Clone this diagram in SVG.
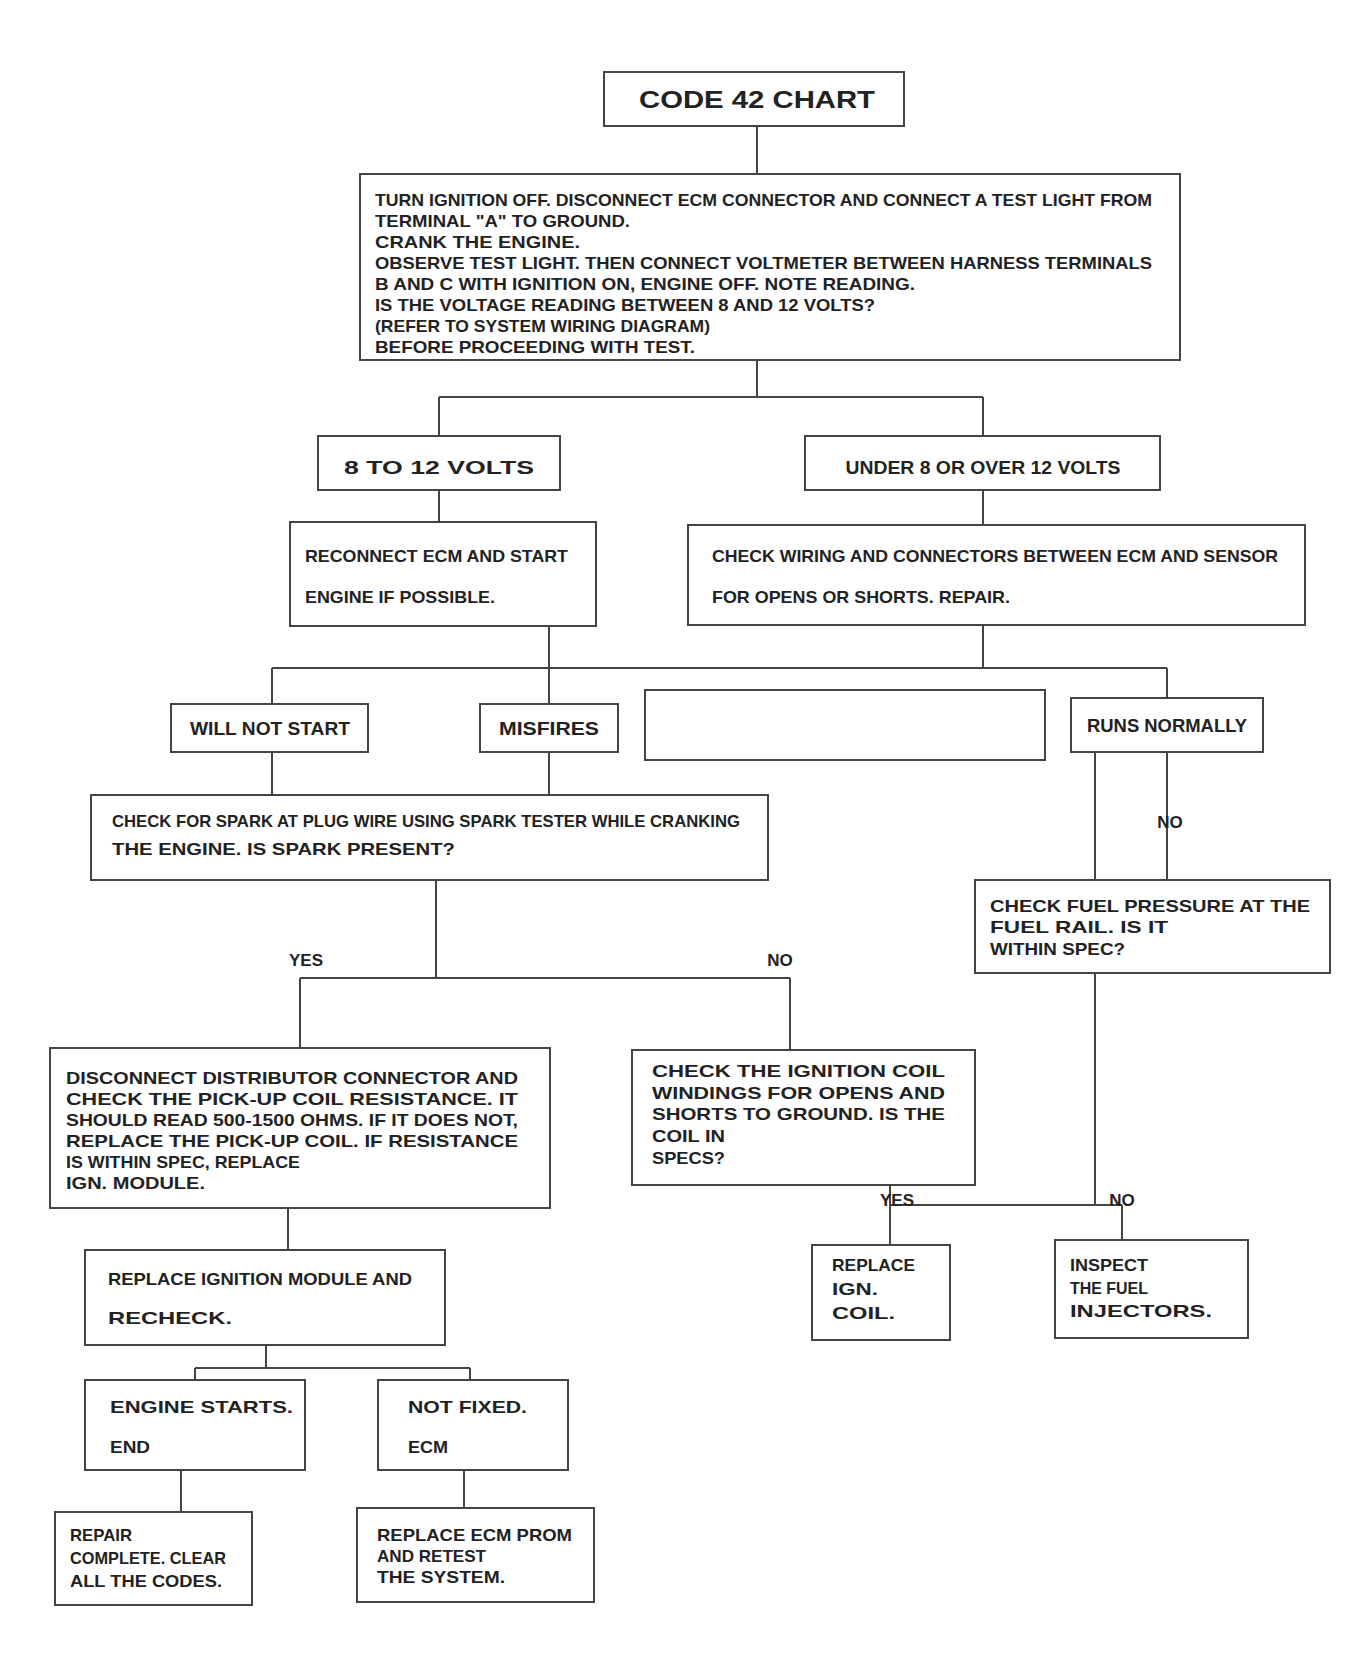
<svg xmlns="http://www.w3.org/2000/svg" width="1371" height="1673" viewBox="0 0 1371 1673">
<style>
.box{fill:#fff;stroke:#444;stroke-width:2}
.c{fill:none;stroke:#444;stroke-width:2}
.t{font-family:"Liberation Sans",Arial,sans-serif;font-weight:bold;font-size:17px;fill:#222}
.h{font-family:"Liberation Sans",Arial,sans-serif;font-weight:bold;font-size:19px;fill:#222;text-anchor:middle}
.ttl{font-family:"Liberation Sans",Arial,sans-serif;font-weight:bold;font-size:24px;fill:#222;text-anchor:middle}
.lbl{font-family:"Liberation Sans",Arial,sans-serif;font-weight:bold;font-size:17px;fill:#222;text-anchor:middle}
</style>
<rect width="1371" height="1673" fill="#fff"/>
<g id="connectors">
<path class="c" d="M757 126V174"/>
<path class="c" d="M757 360V397M439 397H983M439 397V436M983 397V436"/>
<path class="c" d="M439 490V522M983 490V525"/>
<path class="c" d="M549 626V668M983 625V668M272 668H1167M272 668V704M549 668V704M1167 668V698"/>
<path class="c" d="M272 752V795M549 752V795"/>
<path class="c" d="M1167 752V880"/>
<path class="c" d="M1095 752V1205"/>
<path class="c" d="M436 880V978M300 978H790M300 978V1048M790 978V1050"/>
<path class="c" d="M890 1185V1245M890 1205H1122M1122 1205V1240"/>
<path class="c" d="M288 1208V1250"/>
<path class="c" d="M266 1345V1368M195 1368H470M195 1368V1380M470 1368V1380"/>
<path class="c" d="M181 1470V1512M464 1470V1508"/>
</g>
<g id="title"><rect class="box" x="604" y="72" width="300" height="54"/><text class="ttl" x="757" y="108" textLength="236" lengthAdjust="spacingAndGlyphs">CODE 42 CHART</text></g>
<g id="nodeB"><rect class="box" x="360" y="174" width="820" height="186"/>
<text class="t" x="375" y="206" textLength="777" lengthAdjust="spacingAndGlyphs">TURN IGNITION OFF. DISCONNECT ECM CONNECTOR AND CONNECT A TEST LIGHT FROM</text>
<text class="t" x="375" y="227" textLength="255" lengthAdjust="spacingAndGlyphs">TERMINAL "A" TO GROUND.</text>
<text class="t" x="375" y="248" textLength="205" lengthAdjust="spacingAndGlyphs">CRANK THE ENGINE.</text>
<text class="t" x="375" y="269" textLength="777" lengthAdjust="spacingAndGlyphs">OBSERVE TEST LIGHT. THEN CONNECT VOLTMETER BETWEEN HARNESS TERMINALS</text>
<text class="t" x="375" y="290" textLength="540" lengthAdjust="spacingAndGlyphs">B AND C WITH IGNITION ON, ENGINE OFF. NOTE READING.</text>
<text class="t" x="375" y="311" textLength="500" lengthAdjust="spacingAndGlyphs">IS THE VOLTAGE READING BETWEEN 8 AND 12 VOLTS?</text>
<text class="t" x="375" y="332" textLength="335" lengthAdjust="spacingAndGlyphs">(REFER TO SYSTEM WIRING DIAGRAM)</text>
<text class="t" x="375" y="353" textLength="320" lengthAdjust="spacingAndGlyphs">BEFORE PROCEEDING WITH TEST.</text>
</g>
<g id="nodeC"><rect class="box" x="318" y="436" width="242" height="54"/><text class="h" x="439" y="474" textLength="190" lengthAdjust="spacingAndGlyphs">8 TO 12 VOLTS</text></g>
<g id="nodeD"><rect class="box" x="805" y="436" width="355" height="54"/><text class="h" x="983" y="474" textLength="275" lengthAdjust="spacingAndGlyphs">UNDER 8 OR OVER 12 VOLTS</text></g>
<g id="nodeE"><rect class="box" x="290" y="522" width="306" height="104"/>
<text class="t" x="305" y="562" textLength="263" lengthAdjust="spacingAndGlyphs">RECONNECT ECM AND START</text>
<text class="t" x="305" y="603" textLength="190" lengthAdjust="spacingAndGlyphs">ENGINE IF POSSIBLE.</text></g>
<g id="nodeF"><rect class="box" x="688" y="525" width="617" height="100"/>
<text class="t" x="712" y="562" textLength="566" lengthAdjust="spacingAndGlyphs">CHECK WIRING AND CONNECTORS BETWEEN ECM AND SENSOR</text>
<text class="t" x="712" y="603" textLength="298" lengthAdjust="spacingAndGlyphs">FOR OPENS OR SHORTS. REPAIR.</text></g>
<g id="nodeG"><rect class="box" x="171" y="704" width="197" height="48"/><text class="h" x="270" y="735" textLength="160" lengthAdjust="spacingAndGlyphs">WILL NOT START</text></g>
<g id="nodeH"><rect class="box" x="480" y="704" width="138" height="48"/><text class="h" x="549" y="735" textLength="100" lengthAdjust="spacingAndGlyphs">MISFIRES</text></g>
<g id="emptyBox"><rect class="box" x="645" y="690" width="400" height="70"/></g>
<g id="nodeI"><rect class="box" x="1071" y="698" width="192" height="54"/><text class="h" x="1167" y="732" textLength="160" lengthAdjust="spacingAndGlyphs">RUNS NORMALLY</text></g>
<g id="nodeJ"><rect class="box" x="91" y="795" width="677" height="85"/>
<text class="t" x="112" y="827" textLength="628" lengthAdjust="spacingAndGlyphs">CHECK FOR SPARK AT PLUG WIRE USING SPARK TESTER WHILE CRANKING</text>
<text class="t" x="112" y="855" textLength="343" lengthAdjust="spacingAndGlyphs">THE ENGINE. IS SPARK PRESENT?</text></g>
<g id="nodeK"><rect class="box" x="975" y="880" width="355" height="93"/>
<text class="t" x="990" y="912" textLength="320" lengthAdjust="spacingAndGlyphs">CHECK FUEL PRESSURE AT THE</text>
<text class="t" x="990" y="933" textLength="178" lengthAdjust="spacingAndGlyphs">FUEL RAIL. IS IT</text>
<text class="t" x="990" y="955" textLength="135" lengthAdjust="spacingAndGlyphs">WITHIN SPEC?</text></g>
<g id="nodeL"><rect class="box" x="50" y="1048" width="500" height="160"/>
<text class="t" x="66" y="1084" textLength="452" lengthAdjust="spacingAndGlyphs">DISCONNECT DISTRIBUTOR CONNECTOR AND</text>
<text class="t" x="66" y="1105" textLength="452" lengthAdjust="spacingAndGlyphs">CHECK THE PICK-UP COIL RESISTANCE. IT</text>
<text class="t" x="66" y="1126" textLength="452" lengthAdjust="spacingAndGlyphs">SHOULD READ 500-1500 OHMS. IF IT DOES NOT,</text>
<text class="t" x="66" y="1147" textLength="452" lengthAdjust="spacingAndGlyphs">REPLACE THE PICK-UP COIL. IF RESISTANCE</text>
<text class="t" x="66" y="1168" textLength="234" lengthAdjust="spacingAndGlyphs">IS WITHIN SPEC, REPLACE</text>
<text class="t" x="66" y="1189" textLength="139" lengthAdjust="spacingAndGlyphs">IGN. MODULE.</text></g>
<g id="nodeM"><rect class="box" x="632" y="1050" width="343" height="135"/>
<text class="t" x="652" y="1077" textLength="293" lengthAdjust="spacingAndGlyphs">CHECK THE IGNITION COIL</text>
<text class="t" x="652" y="1099" textLength="293" lengthAdjust="spacingAndGlyphs">WINDINGS FOR OPENS AND</text>
<text class="t" x="652" y="1120" textLength="293" lengthAdjust="spacingAndGlyphs">SHORTS TO GROUND. IS THE</text>
<text class="t" x="652" y="1142" textLength="73" lengthAdjust="spacingAndGlyphs">COIL IN</text>
<text class="t" x="652" y="1164" textLength="73" lengthAdjust="spacingAndGlyphs">SPECS?</text></g>
<g id="nodeN"><rect class="box" x="812" y="1245" width="138" height="95"/>
<text class="t" x="832" y="1271" textLength="83" lengthAdjust="spacingAndGlyphs">REPLACE</text>
<text class="t" x="832" y="1295" textLength="46" lengthAdjust="spacingAndGlyphs">IGN.</text>
<text class="t" x="832" y="1319" textLength="63" lengthAdjust="spacingAndGlyphs">COIL.</text></g>
<g id="nodeO"><rect class="box" x="1055" y="1240" width="193" height="98"/>
<text class="t" x="1070" y="1271" textLength="78" lengthAdjust="spacingAndGlyphs">INSPECT</text>
<text class="t" x="1070" y="1294" textLength="78" lengthAdjust="spacingAndGlyphs">THE FUEL</text>
<text class="t" x="1070" y="1317" textLength="142" lengthAdjust="spacingAndGlyphs">INJECTORS.</text></g>
<g id="nodeP"><rect class="box" x="85" y="1250" width="360" height="95"/>
<text class="t" x="108" y="1285" textLength="304" lengthAdjust="spacingAndGlyphs">REPLACE IGNITION MODULE AND</text>
<text class="t" x="108" y="1324" textLength="124" lengthAdjust="spacingAndGlyphs">RECHECK.</text></g>
<g id="nodeQ"><rect class="box" x="85" y="1380" width="220" height="90"/>
<text class="t" x="110" y="1413" textLength="183" lengthAdjust="spacingAndGlyphs">ENGINE STARTS.</text>
<text class="t" x="110" y="1453" textLength="40" lengthAdjust="spacingAndGlyphs">END</text></g>
<g id="nodeR"><rect class="box" x="378" y="1380" width="190" height="90"/>
<text class="t" x="408" y="1413" textLength="119" lengthAdjust="spacingAndGlyphs">NOT FIXED.</text>
<text class="t" x="408" y="1453" textLength="40" lengthAdjust="spacingAndGlyphs">ECM</text></g>
<g id="nodeS"><rect class="box" x="55" y="1512" width="197" height="93"/>
<text class="t" x="70" y="1541" textLength="62" lengthAdjust="spacingAndGlyphs">REPAIR</text>
<text class="t" x="70" y="1564" textLength="156" lengthAdjust="spacingAndGlyphs">COMPLETE. CLEAR</text>
<text class="t" x="70" y="1587" textLength="152" lengthAdjust="spacingAndGlyphs">ALL THE CODES.</text></g>
<g id="nodeT"><rect class="box" x="357" y="1508" width="237" height="94"/>
<text class="t" x="377" y="1541" textLength="195" lengthAdjust="spacingAndGlyphs">REPLACE ECM PROM</text>
<text class="t" x="377" y="1562" textLength="109" lengthAdjust="spacingAndGlyphs">AND RETEST</text>
<text class="t" x="377" y="1583" textLength="128" lengthAdjust="spacingAndGlyphs">THE SYSTEM.</text></g>
<g id="labels">
<text class="lbl" x="306" y="966">YES</text>
<text class="lbl" x="780" y="966">NO</text>
<text class="lbl" x="1170" y="828">NO</text>
<text class="lbl" x="897" y="1206">YES</text>
<text class="lbl" x="1122" y="1206">NO</text>
</g>
</svg>
